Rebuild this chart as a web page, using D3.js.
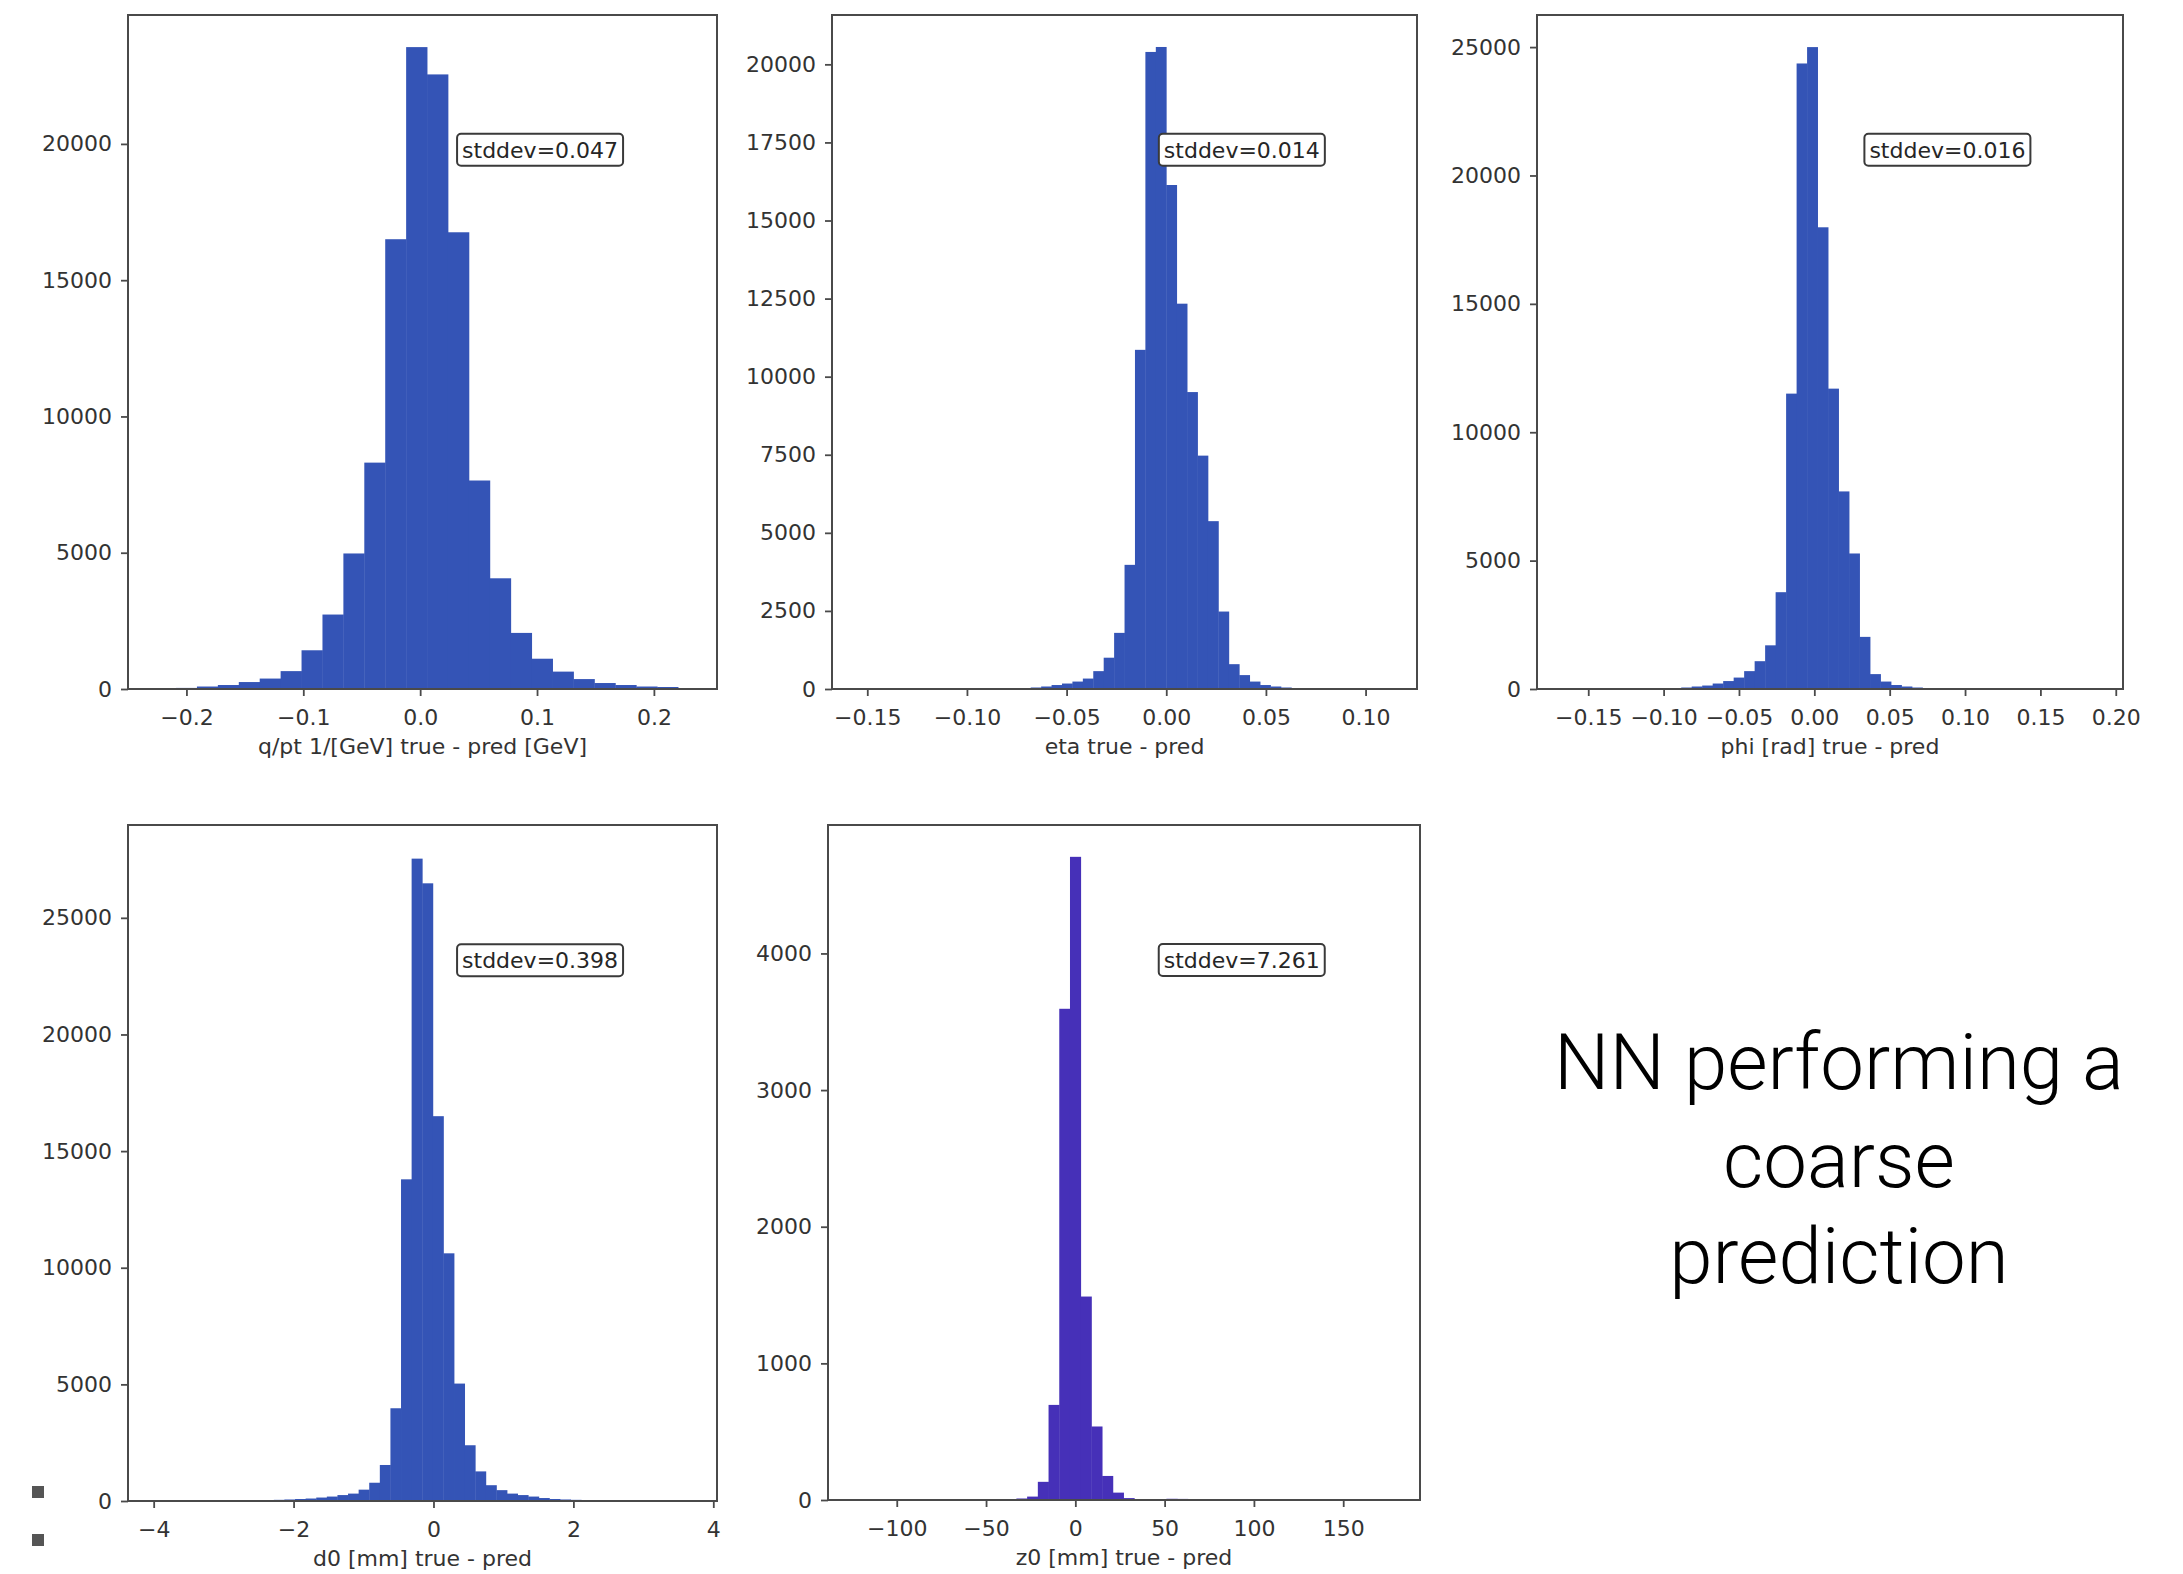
<!DOCTYPE html>
<html>
<head>
<meta charset="utf-8">
<script src="https://cdn.jsdelivr.net/npm/d3@7"></script>
<style>
  html, body { margin: 0; padding: 0; background: #ffffff; }
  svg text { font-family: "DejaVu Sans", sans-serif; }
</style>
</head>
<body>
<svg id="fig" width="2183" height="1574"></svg>
<script>
// ---- q/pt residuals: true - pred [1/GeV] ----
const qptBinStart = -0.2089;
const qptBinWidth = 0.0179;
const qptCounts = [40, 91, 146, 255, 383, 656, 1421, 2732, 4973, 8306, 16503, 23552,
                   22550, 16758, 7650, 4062, 2058, 1111, 638, 364, 219, 146, 91, 73];
const qptXDomain = [-0.25, 0.254];
const qptYMax = 24730;
const qptXTicks = [-0.2, -0.1, 0.0, 0.1, 0.2];
const qptYTicks = [0, 5000, 10000, 15000, 20000];
const qptLabel = "q/pt 1/[GeV] true - pred [GeV]";
const qptStd = "stddev=0.047";

// ---- eta residuals ----
const etaBinStart = -0.07846;
const etaBinWidth = 0.00523;
const etaCounts = [20, 32, 48, 80, 127, 175, 238, 334, 572, 1002, 1797, 3975, 10859, 20397,
                   20556, 16137, 12337, 9507, 7472, 5374, 2480, 795, 445, 238, 127, 80, 48, 32, 20, 12];
const etaXDomain = [-0.1677, 0.1258];
const etaYMax = 21580;
const etaXTicks = [-0.15, -0.10, -0.05, 0.00, 0.05, 0.10];
const etaYTicks = [0, 2500, 5000, 7500, 10000, 12500, 15000, 17500, 20000];
const etaLabel = "eta true - pred";
const etaStd = "stddev=0.014";

// ---- phi residuals [rad] ----
const phiBinStart = -0.1092;
const phiBinWidth = 0.00696;
const phiCounts = [20, 39, 39, 58, 97, 135, 213, 309, 445, 696, 1083, 1701, 3770, 11504,
                   24362, 25000, 17982, 11698, 7695, 5278, 2030, 580, 290, 155, 97, 58, 39, 20];
const phiXDomain = [-0.184, 0.2048];
const phiYMax = 26250;
const phiXTicks = [-0.15, -0.10, -0.05, 0.00, 0.05, 0.10, 0.15, 0.20];
const phiYTicks = [0, 5000, 10000, 15000, 20000, 25000];
const phiLabel = "phi [rad] true - pred";
const phiStd = "stddev=0.016";

// ---- d0 residuals [mm] ----
const d0BinStart = -3.797;
const d0BinWidth = 0.1515;
const d0Counts = [10, 12, 15, 18, 20, 22, 25, 30, 35, 40, 50, 65, 85, 106, 148, 190, 254, 317,
                  486, 783, 1544, 3976, 13790, 27538, 26480, 16497, 10618, 5034, 2390, 1269,
                  677, 465, 317, 254, 190, 127, 85, 65, 50, 40, 30, 25, 20, 15];
const d0XDomain = [-4.367, 4.053];
const d0YMax = 28980;
const d0XTicks = [-4, -2, 0, 2, 4];
const d0YTicks = [0, 5000, 10000, 15000, 20000, 25000];
const d0Label = "d0 [mm] true - pred";
const d0Std = "stddev=0.398";

// ---- z0 residuals [mm] ----
const z0BinStart = -39;
const z0BinWidth = 6.0;
const z0Counts = [5, 11, 25, 133, 696, 3595, 4707, 1489, 538, 176, 54, 14, 6, 5, 4, 9, 8, 3, 2];
const z0XDomain = [-138.5, 193];
const z0YMax = 4940;
const z0XTicks = [-100, -50, 0, 50, 100, 150];
const z0YTicks = [0, 1000, 2000, 3000, 4000];
const z0Label = "z0 [mm] true - pred";
const z0Std = "stddev=7.261";

// ---- side caption ----
const captionLines = ["NN performing a", "coarse", "prediction"];

// Panel table assembled from the arrays above, plus where each axes box sits.
const panels = [
  { start: qptBinStart, width: qptBinWidth, counts: qptCounts, xDomain: qptXDomain, yMax: qptYMax,
    xTicks: qptXTicks, yTicks: qptYTicks, xFmt: d3.format(".1f"), label: qptLabel, std: qptStd,
    box: [128, 15, 717, 689], color: "#3454b6" },
  { start: etaBinStart, width: etaBinWidth, counts: etaCounts, xDomain: etaXDomain, yMax: etaYMax,
    xTicks: etaXTicks, yTicks: etaYTicks, xFmt: d3.format(".2f"), label: etaLabel, std: etaStd,
    box: [832, 15, 1417, 689], color: "#3454b6" },
  { start: phiBinStart, width: phiBinWidth, counts: phiCounts, xDomain: phiXDomain, yMax: phiYMax,
    xTicks: phiXTicks, yTicks: phiYTicks, xFmt: d3.format(".2f"), label: phiLabel, std: phiStd,
    box: [1537, 15, 2123, 689], color: "#3454b6" },
  { start: d0BinStart, width: d0BinWidth, counts: d0Counts, xDomain: d0XDomain, yMax: d0YMax,
    xTicks: d0XTicks, yTicks: d0YTicks, xFmt: d3.format("d"), label: d0Label, std: d0Std,
    box: [128, 825, 717, 1501], color: "#3454b6" },
  { start: z0BinStart, width: z0BinWidth, counts: z0Counts, xDomain: z0XDomain, yMax: z0YMax,
    xTicks: z0XTicks, yTicks: z0YTicks, xFmt: d3.format("d"), label: z0Label, std: z0Std,
    box: [828, 825, 1420, 1500], color: "#4630b8" }
];

const svg = d3.select("#fig");
const FONT = 22;
const AXIS_COLOR = "#4a4a4a";
const TEXT_COLOR = "#333333";

panels.forEach((p, k) => {
  const [x0, y0, x1, y1] = p.box;
  const x = d3.scaleLinear().domain(p.xDomain).range([x0, x1]);
  const y = d3.scaleLinear().domain([0, p.yMax]).range([y1, y0]);
  const g = svg.append("g").attr("class", "panel");

  const clipId = "clip" + k;
  svg.append("clipPath").attr("id", clipId)
    .append("rect").attr("x", x0).attr("y", y0).attr("width", x1 - x0).attr("height", y1 - y0);

  const bins = p.counts.map((c, i) => ({
    lo: p.start + i * p.width,
    hi: p.start + (i + 1) * p.width,
    c
  }));

  g.append("g").attr("clip-path", `url(#${clipId})`)
    .selectAll("rect").data(bins).join("rect")
    .attr("x", d => x(d.lo))
    .attr("width", d => x(d.hi) - x(d.lo) + 0.4)
    .attr("y", d => y(d.c))
    .attr("height", d => y(0) - y(d.c))
    .attr("fill", p.color);

  // x axis
  const gx = g.append("g").attr("transform", `translate(0,${y1})`)
    .call(d3.axisBottom(x).tickValues(p.xTicks).tickFormat(p.xFmt).tickSize(7).tickPadding(13));
  // y axis
  const gy = g.append("g").attr("transform", `translate(${x0},0)`)
    .call(d3.axisLeft(y).tickValues(p.yTicks).tickFormat(d3.format("d")).tickSize(7).tickPadding(9));

  [gx, gy].forEach(a => {
    a.select(".domain").remove();
    a.selectAll(".tick line").attr("stroke", AXIS_COLOR).attr("stroke-width", 1.8);
    a.selectAll(".tick text").attr("fill", TEXT_COLOR)
      .style("font-size", FONT + "px").style("font-family", '"DejaVu Sans", sans-serif');
  });

  // axes frame
  g.append("rect")
    .attr("x", x0).attr("y", y0).attr("width", x1 - x0).attr("height", y1 - y0)
    .attr("fill", "none").attr("stroke", AXIS_COLOR).attr("stroke-width", 2);

  // x label
  g.append("text")
    .attr("x", (x0 + x1) / 2).attr("y", y1 + 57).attr("dy", "0.35em")
    .attr("text-anchor", "middle").attr("fill", TEXT_COLOR)
    .style("font-size", FONT + "px")
    .text(p.label);

  // std-dev annotation box
  const tx = x0 + 0.557 * (x1 - x0) + 6;
  const ty = y1 - 0.80 * (y1 - y0);
  const t = g.append("text")
    .attr("x", tx).attr("y", ty).attr("dy", "0.36em")
    .attr("fill", "#262626")
    .style("font-size", "22px")
    .text(p.std);
  const bb = t.node().getBBox();
  g.insert("rect", () => t.node())
    .attr("x", bb.x - 5).attr("y", ty - 16)
    .attr("width", bb.width + 10).attr("height", 32)
    .attr("rx", 4).attr("ry", 4)
    .attr("fill", "#ffffff").attr("stroke", "#3a3a3a").attr("stroke-width", 2);
});

// side caption
const cap = svg.append("g");
const capBaselines = [1089, 1187, 1283];
cap.selectAll("text").data(captionLines).join("text")
  .attr("x", 1839)
  .attr("y", (d, i) => capBaselines[i])
  .attr("text-anchor", "middle")
  .attr("fill", "#000000")
  .style("font-family", 'Roboto, "Liberation Sans", sans-serif')
  .style("font-weight", 300)
  .style("font-size", "78px")
  .text(d => d);

// small slide bullets at the lower left
svg.append("g").selectAll("rect").data([1486, 1534]).join("rect")
  .attr("x", 32).attr("y", d => d).attr("width", 12).attr("height", 12)
  .attr("fill", "#555555");
</script>
</body>
</html>
